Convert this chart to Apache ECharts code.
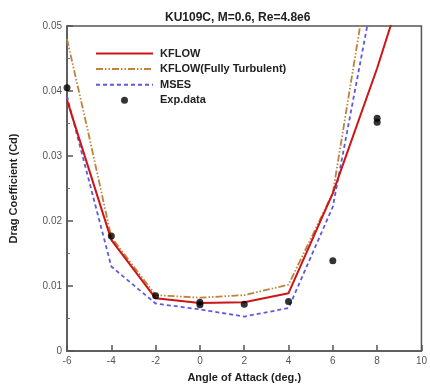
<!DOCTYPE html>
<html>
<head>
<meta charset="utf-8">
<script src="https://cdn.jsdelivr.net/npm/echarts@6/dist/echarts.min.js"></script>
<style>html,body{margin:0;padding:0;background:#fff}#c{width:430px;height:388px}</style>
</head>
<body>
<div id="c"></div>
<script>
const titleText = 'KU109C, M=0.6, Re=4.8e6';
const xName = 'Angle of Attack (deg.)';
const yName = 'Drag Coefficient (Cd)';
const seriesNames = ['KFLOW', 'KFLOW(Fully Turbulent)', 'MSES', 'Exp.data'];

const kflowX = [-6, -4, -2, 0, 2, 4, 6, 8, 10];
const kflowY = [0.0386, 0.0171, 0.0081, 0.0074, 0.0075, 0.0089, 0.0243, 0.0435, 0.065];

const turbX = [-6, -5, -4, -2, 0, 2, 4, 6, 8];
const turbY = [0.048, 0.033, 0.0175, 0.0086, 0.0082, 0.0086, 0.0102, 0.0243, 0.066];

const msesX = [-6, -4, -2, 0, 2, 4, 6, 8];
const msesY = [0.0392, 0.0130, 0.0073, 0.0064, 0.0053, 0.0066, 0.0222, 0.058];

const expX = [-6, -4, -2, 0, 0, 2, 4, 6, 8, 8];
const expY = [0.0405, 0.0177, 0.0085, 0.0071, 0.0075, 0.0072, 0.0076, 0.0139, 0.0352, 0.0358];

const pairs = (xs, ys) => xs.map((x, i) => [x, ys[i]]);
const FONT = '"Liberation Sans", Arial, sans-serif';
const noSym = {color: 'rgba(0,0,0,0)', borderWidth: 0, opacity: 0};

const chart = echarts.init(document.getElementById('c'), null, {renderer: 'canvas'});
chart.setOption({
  animation: false,
  backgroundColor: '#fff',
  title: {
    text: titleText, left: 160, top: 7,
    textStyle: {fontFamily: FONT, fontSize: 12, fontWeight: 'bold', color: '#222'}
  },
  grid: {left: 67, right: 7, top: 26, bottom: 37, show: true, borderColor: '#555', borderWidth: 1.5},
  legend: {
    orient: 'vertical', left: 90, top: 43,
    itemWidth: 57, itemHeight: 7, itemGap: 4.6,
    textStyle: {fontFamily: FONT, fontSize: 11, fontWeight: 'bold', color: '#222', padding: [0, 0, 0, 2]},
    data: seriesNames.map(n => n === 'Exp.data' ? {name: n, icon: 'circle'} : {name: n, itemStyle: noSym})
  },
  xAxis: {
    type: 'value', min: -6, max: 10, interval: 2,
    name: xName, nameLocation: 'middle', nameGap: 21,
    nameTextStyle: {fontFamily: FONT, fontSize: 11, fontWeight: 'bold', color: '#222'},
    axisLine: {show: true, onZero: false, lineStyle: {color: '#555', width: 1.5}},
    axisTick: {show: true, inside: true, length: 6, lineStyle: {color: '#555', width: 1.5}},
    axisLabel: {fontFamily: FONT, fontSize: 10, color: '#555', margin: 5},
    splitLine: {show: false}
  },
  yAxis: {
    type: 'value', min: 0, max: 0.05, interval: 0.01,
    name: yName, nameLocation: 'middle', nameGap: 48,
    nameTextStyle: {fontFamily: FONT, fontSize: 11, fontWeight: 'bold', color: '#222'},
    axisLine: {show: true, onZero: false, lineStyle: {color: '#555', width: 1.5}},
    axisTick: {show: true, inside: true, length: 6, lineStyle: {color: '#555', width: 1.5}},
    minorTick: {show: true, splitNumber: 2, length: 3, lineStyle: {color: '#777', width: 1}},
    axisLabel: {fontFamily: FONT, fontSize: 10, color: '#555', margin: 5,
      formatter: v => v === 0 ? '0' : v.toFixed(2)},
    splitLine: {show: false}
  },
  series: [
    {name: seriesNames[0], type: 'line', data: pairs(kflowX, kflowY), showSymbol: false, symbol: 'none',
     lineStyle: {color: '#cc1515', width: 2}, itemStyle: {color: '#cc1515'}, z: 4},
    {name: seriesNames[1], type: 'line', data: pairs(turbX, turbY), showSymbol: false, symbol: 'none',
     lineStyle: {color: '#c0813a', width: 1.8, type: [7, 2, 1.5, 2, 1.5, 2]}, itemStyle: {color: '#c0813a'}, z: 3},
    {name: seriesNames[2], type: 'line', data: pairs(msesX, msesY), showSymbol: false, symbol: 'none',
     lineStyle: {color: '#5a5ae6', width: 1.8, type: [4, 3]}, itemStyle: {color: '#5a5ae6'}, z: 2},
    {name: seriesNames[3], type: 'scatter', data: pairs(expX, expY), symbol: 'circle', symbolSize: 7,
     itemStyle: {color: '#000'}, clip: false, z: 5}
  ]
});
</script>
</body>
</html>
